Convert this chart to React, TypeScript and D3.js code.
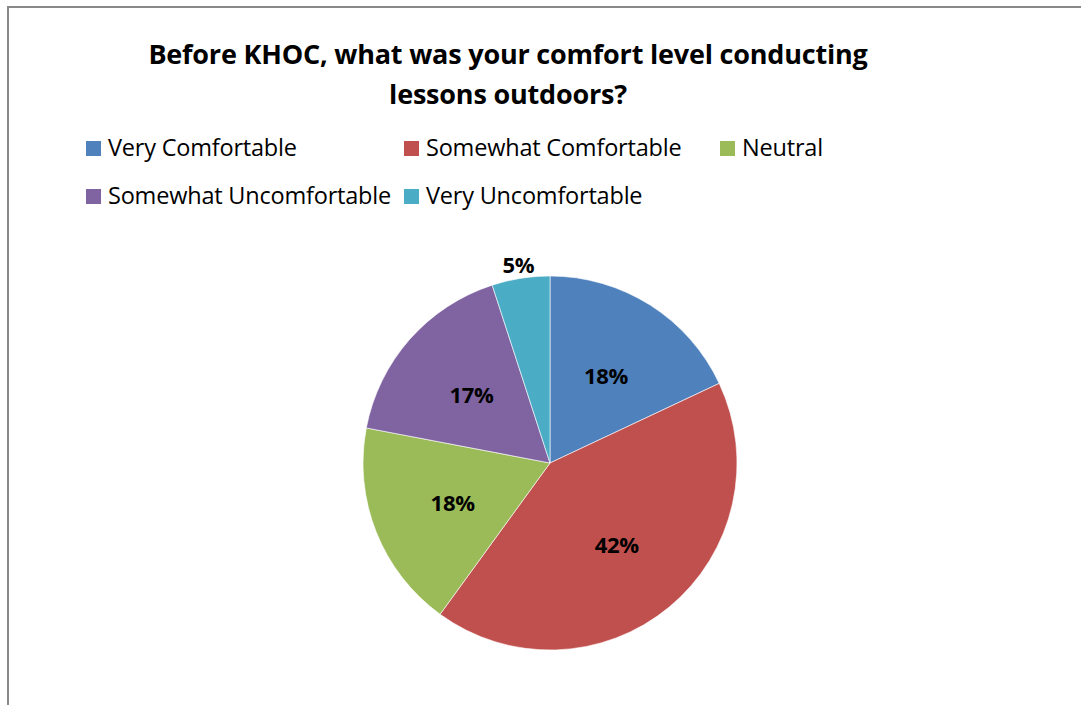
import { useEffect, useRef } from 'react'
import * as d3 from 'd3'

const TITLE_LINES = ['Before KHOC, what was your comfort level conducting', 'lessons outdoors?']
const CATEGORIES = ['Very Comfortable', 'Somewhat Comfortable', 'Neutral', 'Somewhat Uncomfortable', 'Very Uncomfortable']
const SHARES = [0.18, 0.42, 0.18, 0.17, 0.05]
const LABELS = ['18%', '42%', '18%', '17%', '5%']
const COLORS = ['#4f81bd', '#c0504d', '#9bbb59', '#8064a2', '#4bacc6']

const W = 1081
const H = 705
const FONT = '"Open Sans", Lato, sans-serif'

export default function App() {
  const svgRef = useRef<SVGSVGElement>(null)

  useEffect(() => {
    if (!svgRef.current) return
    const svg = d3.select(svgRef.current)
    svg.selectAll('*').remove()

    // frame
    svg.append('rect')
      .attr('x', 8).attr('y', 7).attr('width', W + 10).attr('height', H + 10)
      .attr('fill', '#fff').attr('stroke', '#898989').attr('stroke-width', 2)

    // title
    TITLE_LINES.forEach((t, i) => {
      svg.append('text')
        .attr('x', 508).attr('y', 64 + i * 40)
        .attr('text-anchor', 'middle')
        .attr('font-family', FONT).attr('font-weight', 700).attr('font-size', 27)
        .attr('letter-spacing', -0.2)
        .attr('fill', '#000')
        .text(t)
    })

    // legend
    const legendPos = [[86, 148], [404, 148], [720, 148], [86, 196], [404, 196]]
    CATEGORIES.forEach((c, i) => {
      const [lx, ly] = legendPos[i]
      const g = svg.append('g').attr('transform', `translate(${lx},${ly})`)
      g.append('rect').attr('x', 0).attr('y', -7).attr('width', 15).attr('height', 15).attr('fill', COLORS[i])
      g.append('text').attr('x', 22).attr('y', 8)
        .attr('font-family', FONT).attr('font-size', 23.5).attr('fill', '#000')
        .attr('letter-spacing', -0.2)
        .text(c)
    })

    // pie
    const cx = 550, cy = 463, r = 187
    const pie = d3.pie<number>().sort(null).value(d => d)
    const arcs = pie(SHARES)
    const arc = d3.arc<d3.PieArcDatum<number>>().innerRadius(0).outerRadius(r)
    const g = svg.append('g').attr('transform', `translate(${cx},${cy})`)
    g.selectAll('path')
      .data(arcs)
      .join('path')
      .attr('d', arc)
      .attr('fill', (_, i) => COLORS[i])
      .attr('stroke', '#fff').attr('stroke-width', 0.6)

    const inner = d3.arc<d3.PieArcDatum<number>>().innerRadius(r * 0.56).outerRadius(r * 0.56)
    const outer = d3.arc<d3.PieArcDatum<number>>().innerRadius(r * 1.08).outerRadius(r * 1.08)
    arcs.forEach((a, i) => {
      const small = SHARES[i] < 0.1
      const [x, y] = small ? outer.centroid(a) : inner.centroid(a)
      g.append('text')
        .attr('x', x).attr('y', y)
        .attr('text-anchor', 'middle').attr('dominant-baseline', 'central')
        .attr('font-family', FONT).attr('font-weight', 700).attr('font-size', 22)
        .attr('letter-spacing', -0.3)
        .attr('fill', '#000')
        .text(LABELS[i])
    })
  }, [])

  return (
    <div style={{ position: 'absolute', left: 0, top: 0, width: W, height: H, overflow: 'hidden' }}>
      <svg ref={svgRef} width={W} height={H} />
    </div>
  )
}
